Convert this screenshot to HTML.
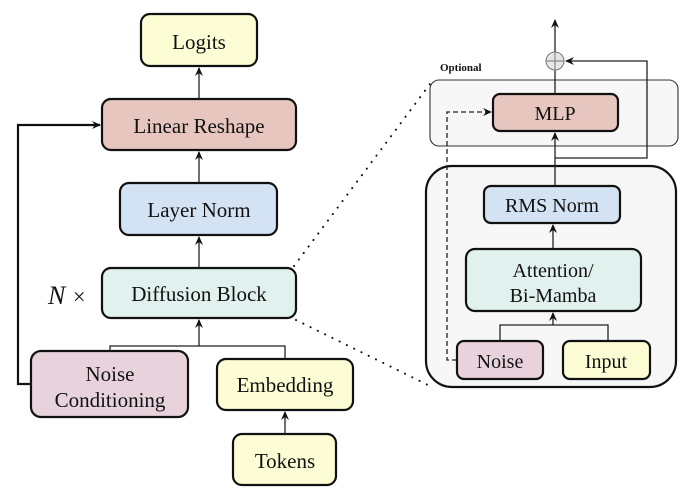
<!DOCTYPE html>
<html><head><meta charset="utf-8"><style>
html,body{margin:0;padding:0;background:#fff;}
svg{display:block;}
svg text{font-family:"Liberation Serif","DejaVu Serif","Noto Serif CJK SC",serif;fill:#111;}
</style></head><body>
<svg width="685" height="491" viewBox="0 0 685 491" xmlns="http://www.w3.org/2000/svg">
<defs>
<marker id="a" markerWidth="10" markerHeight="10" refX="8" refY="5" orient="auto" markerUnits="userSpaceOnUse">
<path d="M0,1 L9,5 L0,9 L3,5 Z" fill="#111"/>
</marker>
</defs>
<g stroke="#111" stroke-width="2.2">
<rect x="141" y="14" width="116" height="52" rx="9" fill="#fdfdd5"/>
<rect x="102" y="99" width="194" height="51" rx="9" fill="#e7c6bf"/>
<rect x="120" y="183" width="157" height="52" rx="9" fill="#d4e3f3"/>
<rect x="102" y="268" width="194" height="50" rx="9" fill="#e0f1ee"/>
<rect x="31" y="351" width="157" height="66" rx="10" fill="#e8d3dd"/>
<rect x="217" y="359" width="136" height="51" rx="9" fill="#fdfdd5"/>
<rect x="233" y="434" width="103" height="51" rx="9" fill="#fdfdd5"/>
</g>
<g stroke="#222" stroke-width="1.3" fill="none">
<line x1="199" y1="99" x2="199" y2="68" marker-end="url(#a)"/>
<line x1="199" y1="183" x2="199" y2="152" marker-end="url(#a)"/>
<line x1="199" y1="268" x2="199" y2="237" marker-end="url(#a)"/>
<polyline points="110,351 110,346 285,346 285,359"/>
<line x1="199" y1="346" x2="199" y2="320" marker-end="url(#a)"/>
<line x1="285" y1="434" x2="285" y2="412" marker-end="url(#a)"/>
</g>
<polyline points="31,384 18,384 18,125 100,125" fill="none" stroke="#111" stroke-width="2.2" marker-end="url(#a)"/>
<g font-size="21" text-anchor="middle">
<text x="199" y="49">Logits</text>
<text x="199" y="133">Linear Reshape</text>
<text x="199" y="217">Layer Norm</text>
<text x="199" y="301">Diffusion Block</text>
<text x="110" y="381">Noise</text>
<text x="110" y="407">Conditioning</text>
<text x="285" y="392">Embedding</text>
<text x="285" y="468">Tokens</text>
</g>
<text x="48" y="304" font-size="26" font-style="italic">N</text>
<text x="73" y="304" font-size="22">×</text>
<line x1="294" y1="266" x2="430" y2="84" stroke="#111" stroke-width="2" stroke-dasharray="0.1,8" stroke-linecap="round"/>
<line x1="296" y1="320" x2="430" y2="386" stroke="#111" stroke-width="2" stroke-dasharray="0.1,8" stroke-linecap="round"/>
<rect x="430" y="80" width="248" height="66" rx="9" fill="#f7f7f7" stroke="#333" stroke-width="1.1"/>
<text x="440" y="71" font-size="11" font-weight="bold">Optional</text>
<rect x="426" y="166" width="250" height="221" rx="26" fill="#f7f7f7" stroke="#111" stroke-width="2.2"/>
<g stroke="#111" stroke-width="2.2">
<rect x="493" y="94" width="125" height="37" rx="7" fill="#e7c6bf"/>
<rect x="484" y="186" width="136" height="37" rx="7" fill="#d4e3f3"/>
<rect x="466" y="249" width="175" height="62" rx="9" fill="#e0f1ee"/>
<rect x="457" y="341" width="86" height="38" rx="7" fill="#e8d3dd"/>
<rect x="563" y="341" width="87" height="38" rx="7" fill="#fdfdd5"/>
</g>
<g stroke="#222" stroke-width="1.3" fill="none">
<line x1="555" y1="166" x2="555" y2="133" marker-end="url(#a)"/>
<line x1="555" y1="186" x2="555" y2="166"/>
<line x1="553" y1="249" x2="553" y2="225" marker-end="url(#a)"/>
<polyline points="500,341 500,325 608,325 608,341"/>
<line x1="553" y1="325" x2="553" y2="313" marker-end="url(#a)"/>
<polyline points="555,158 647,158 647,61 566,61" marker-end="url(#a)"/>
<line x1="555" y1="94" x2="555" y2="70"/>
<line x1="555" y1="52" x2="555" y2="20" marker-end="url(#a)"/>
<polyline points="457,360 447,360 447,112 491,112" stroke-dasharray="5,3" marker-end="url(#a)"/>
</g>
<circle cx="555" cy="61" r="9" fill="#e6e6e6" stroke="#777" stroke-width="1"/>
<line x1="546" y1="61" x2="564" y2="61" stroke="#777" stroke-width="1"/>
<line x1="555" y1="52" x2="555" y2="70" stroke="#777" stroke-width="1"/>
<g font-size="20" text-anchor="middle">
<text x="555" y="120">MLP</text>
<text x="552" y="212">RMS Norm</text>
<text x="553" y="277">Attention/</text>
<text x="553" y="302">Bi-Mamba</text>
<text x="500" y="368">Noise</text>
<text x="606" y="368">Input</text>
</g>
</svg>
</body></html>
